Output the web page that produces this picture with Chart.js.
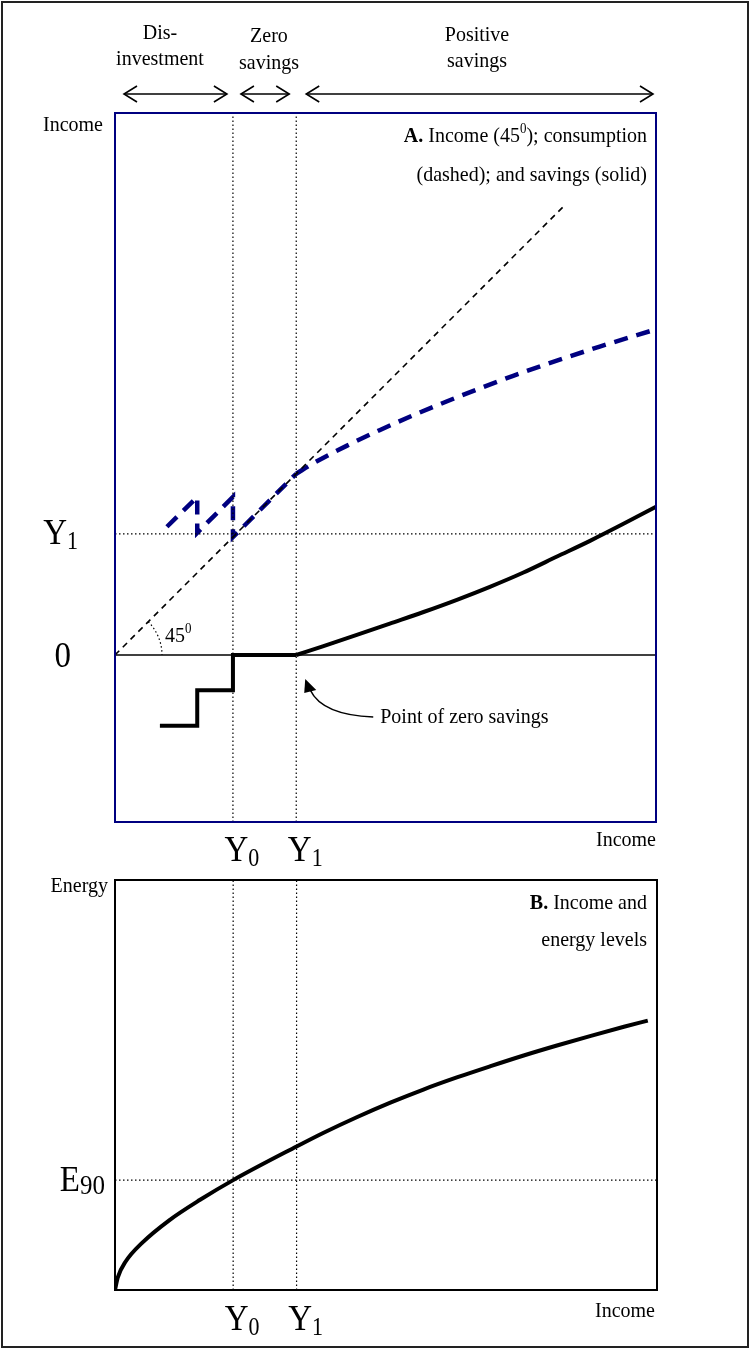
<!DOCTYPE html>
<html>
<head>
<meta charset="utf-8">
<script src="https://cdn.jsdelivr.net/npm/chart.js@4.4.1/dist/chart.umd.min.js"></script>
<style>
  html, body { margin: 0; padding: 0; background: #fff; }
  body { width: 750px; height: 1349px; position: relative; overflow: hidden;
         font-family: "Liberation Serif", "Times New Roman", serif; color: #000; }
  #frame { position: absolute; left: 1px; top: 1px; width: 748px; height: 1347px;
           box-sizing: border-box; border: 2px solid #222; }
  canvas { position: absolute; left: 0; }
  #chartA { top: 0; }
  #chartB { top: 860px; }
  .lbl { position: absolute; white-space: nowrap; line-height: 1; font-size: 20px; }
  .big { font-size: 33px; }
  .big sub { font-size: 22px; vertical-align: -5px; }
  sup { font-size: 13px; vertical-align: 8px; }
</style>
</head>
<body>
<div id="frame"></div>
<canvas id="chartA" width="750" height="860"></canvas>
<canvas id="chartB" width="750" height="489"></canvas>

<script>
// income levels Y0 and Y1 (x units, both panels)
const incomeMarks = [2.18, 3.35];
const incomeMarkLabels = [["Y", "0"], ["Y", "1"]];
const levelA = 2.24;          // dotted level labelled Y1 in panel A
const levelALabel = ["Y", "1"];
const energyE90 = 2.68;

// panel A: 45 degree line, consumption, savings
const fortyFiveX = [0, 8.32];
const consStepX = [0.96, 1.52, 1.52, 2.18, 2.18, 3.35];
const consStepY = [2.37, 2.92, 2.26, 2.92, 2.18, 3.35];
const consCurveX = [3.35, 3.66, 4.29, 4.90, 5.51, 6.14, 6.75, 7.36, 7.99, 8.96, 10];
const consCurveY = [3.35, 3.54, 3.87, 4.16, 4.43, 4.69, 4.93, 5.16, 5.38, 5.70, 6.02];
const savStepX = [0.83, 1.52, 1.52, 2.18, 2.18, 3.35];
const savStepY = [-1.31, -1.31, -0.65, -0.65, 0, 0];
const savCurveX = [3.35, 3.84, 4.47, 5.08, 5.69, 6.32, 6.93, 7.54, 8.17, 8.78, 9.39, 10];
const savCurveY = [0, 0.16, 0.37, 0.58, 0.79, 1.02, 1.26, 1.52, 1.82, 2.11, 2.42, 2.74];

// panel B: energy by income
const energyX = [0, 0.05, 0.2, 0.5, 1.0, 1.57, 2.18, 3.35, 3.84, 4.47, 5.08, 5.69, 6.32, 6.93, 7.54, 8.17, 8.78, 9.39, 9.83];
const energyY = [0, 0.3, 0.7, 1.15, 1.7, 2.2, 2.68, 3.50, 3.83, 4.22, 4.57, 4.89, 5.19, 5.46, 5.72, 5.97, 6.20, 6.42, 6.57];

const NAVY = "#000080";
const DOT = [1.5, 2.5];

const pts = (xs, ys) => xs.map((x, i) => ({ x, y: ys[i] }));

function line(data, color, width, dash, extra) {
  return Object.assign({
    data, borderColor: color, borderWidth: width, borderDash: dash || [],
    pointRadius: 0, showLine: true, fill: false, tension: 0, borderCapStyle: "butt"
  }, extra || {});
}

function label(html, x, y, align, cls) {
  const d = document.createElement("div");
  d.className = "lbl" + (cls ? " " + cls : "");
  d.innerHTML = html;
  d.style.left = x + "px";
  d.style.top = y + "px";
  const tx = align === "right" ? "-100%" : align === "left" ? "0" : "-50%";
  d.style.transform = "translate(" + tx + ",-50%) scaleY(1.1)";
  document.body.appendChild(d);
}

function arrowHead(ctx, x, y, dir) {
  ctx.beginPath();
  ctx.moveTo(x - dir * 13, y - 8);
  ctx.lineTo(x, y);
  ctx.lineTo(x - dir * 13, y + 8);
  ctx.stroke();
}

function dblArrow(ctx, x1, x2, y) {
  ctx.beginPath();
  ctx.moveTo(x1, y);
  ctx.lineTo(x2, y);
  ctx.stroke();
  arrowHead(ctx, x1, y, -1);
  arrowHead(ctx, x2, y, 1);
}

const annotateA = {
  id: "annotateA",
  afterDatasetsDraw(chart) {
    const { ctx, chartArea: a, scales: { x, y } } = chart;
    const x0 = x.getPixelForValue(incomeMarks[0]);
    const x1 = x.getPixelForValue(incomeMarks[1]);
    const yz = y.getPixelForValue(0);
    ctx.save();
    // panel border
    ctx.strokeStyle = NAVY;
    ctx.lineWidth = 2;
    ctx.strokeRect(a.left, a.top, a.right - a.left, a.bottom - a.top);
    // region arrows above the panel
    ctx.strokeStyle = "#000";
    ctx.lineWidth = 1.6;
    const ay = a.top - 19;
    dblArrow(ctx, a.left + 9, x0 - 6, ay);
    dblArrow(ctx, x0 + 8, x1 - 7, ay);
    dblArrow(ctx, x1 + 10, a.right - 3, ay);
    // 45 degree arc
    ctx.lineWidth = 1.2;
    ctx.setLineDash(DOT);
    ctx.beginPath();
    ctx.arc(a.left, yz, 47, -Math.PI / 4, 0);
    ctx.stroke();
    ctx.setLineDash([]);
    // arrow to the point of zero savings
    ctx.lineWidth = 1.6;
    ctx.beginPath();
    ctx.moveTo(x1 + 77, yz + 62);
    ctx.quadraticCurveTo(x1 + 26, yz + 60, x1 + 14, yz + 35);
    ctx.stroke();
    ctx.fillStyle = "#000";
    ctx.beginPath();
    ctx.moveTo(x1 + 9, yz + 24);
    ctx.lineTo(x1 + 20, yz + 35);
    ctx.lineTo(x1 + 8, yz + 38);
    ctx.closePath();
    ctx.fill();
    ctx.restore();
  }
};

const borderB = {
  id: "borderB",
  afterDatasetsDraw(chart) {
    const { ctx, chartArea: a } = chart;
    ctx.save();
    ctx.strokeStyle = "#000";
    ctx.lineWidth = 2;
    ctx.strokeRect(a.left, a.top, a.right - a.left, a.bottom - a.top);
    ctx.restore();
  }
};

const baseOpts = (xr, yr, pad) => ({
  responsive: false,
  animation: false,
  layout: { padding: pad },
  plugins: { legend: { display: false }, tooltip: { enabled: false } },
  scales: {
    x: { type: "linear", display: false, min: xr[0], max: xr[1] },
    y: { type: "linear", display: false, min: yr[0], max: yr[1] }
  }
});

// panel A: 541 px wide, 709 px tall, same px per unit on both axes
const yMinA = -3.087, yMaxA = 10.018;
const chartA = new Chart(document.getElementById("chartA"), {
  type: "scatter",
  data: {
    datasets: [
      line(pts([incomeMarks[0], incomeMarks[0]], [yMinA, yMaxA]), "#000", 1.2, DOT),
      line(pts([incomeMarks[1], incomeMarks[1]], [yMinA, yMaxA]), "#000", 1.2, DOT),
      line(pts([0, 10], [levelA, levelA]), "#000", 1.2, DOT),
      line(pts([0, 10], [0, 0]), "#000", 1.6),
      line(pts(fortyFiveX, fortyFiveX), "#000", 1.6, [6, 5]),
      line(pts(consStepX, consStepY), NAVY, 4.5, [14, 9]),
      line(pts(consCurveX, consCurveY), NAVY, 4.5, [14, 9], { cubicInterpolationMode: "monotone" }),
      line(pts(savStepX, savStepY), "#000", 4, [], { borderJoinStyle: "miter" }),
      line(pts(savCurveX, savCurveY), "#000", 4, [], { cubicInterpolationMode: "monotone" })
    ]
  },
  options: baseOpts([0, 10], [yMinA, yMaxA], { left: 115, top: 113, right: 94, bottom: 38 }),
  plugins: [annotateA]
});

const chartB = new Chart(document.getElementById("chartB"), {
  type: "scatter",
  data: {
    datasets: [
      line(pts([incomeMarks[0], incomeMarks[0]], [0, 10]), "#000", 1.2, DOT),
      line(pts([incomeMarks[1], incomeMarks[1]], [0, 10]), "#000", 1.2, DOT),
      line(pts([0, 10], [energyE90, energyE90]), "#000", 1.2, DOT),
      line(pts(energyX, energyY), "#000", 4, [], { cubicInterpolationMode: "monotone" })
    ]
  },
  options: baseOpts([0, 10], [0, 10], { left: 115, top: 20, right: 93, bottom: 59 }),
  plugins: [borderB]
});

// text labels placed from the scales
const sA = chartA.scales, aA = chartA.chartArea;
const sB = chartB.scales, aB = chartB.chartArea;
const topB = 860;
const big = (p) => p[0] + "<sub>" + p[1] + "</sub>";

label("Dis-", 160, 31, "center");
label("investment", 160, 57, "center");
label("Zero", 269, 34, "center");
label("savings", 269, 61, "center");
label("Positive", 477, 33, "center");
label("savings", 477, 59, "center");

label("Income", aA.left - 12, 123, "right");
label(big(levelALabel), aA.left - 37, sA.y.getPixelForValue(levelA), "right", "big");
label("0", aA.left - 44, sA.y.getPixelForValue(0), "right", "big");
label("<b>A.</b> Income (45<sup>0</sup>); consumption", aA.right - 9, 133, "right");
label("(dashed); and savings (solid)", aA.right - 9, 173, "right");
label("45<sup>0</sup>", aA.left + 50, sA.y.getPixelForValue(0) - 22, "left");
label("Point of zero savings", sA.x.getPixelForValue(incomeMarks[1]) + 84, sA.y.getPixelForValue(0) + 60, "left");
label("Income", aA.right, aA.bottom + 16, "right");
incomeMarks.forEach((m, i) => {
  label(big(incomeMarkLabels[i]), sA.x.getPixelForValue(m) + 9, aA.bottom + 29, "center", "big");
  label(big(incomeMarkLabels[i]), sB.x.getPixelForValue(m) + 9, topB + aB.bottom + 30, "center", "big");
});

label("Energy", aB.left - 7, topB + aB.top + 4, "right");
label('E<span style="font-size:25px;vertical-align:-3px">90</span>', aB.left - 10, topB + sB.y.getPixelForValue(energyE90), "right", "big");
label("<b>B.</b> Income and", aB.right - 10, 901, "right");
label("energy levels", aB.right - 10, 938, "right");
label("Income", aB.right - 2, topB + aB.bottom + 19, "right");
</script>
</body>
</html>
